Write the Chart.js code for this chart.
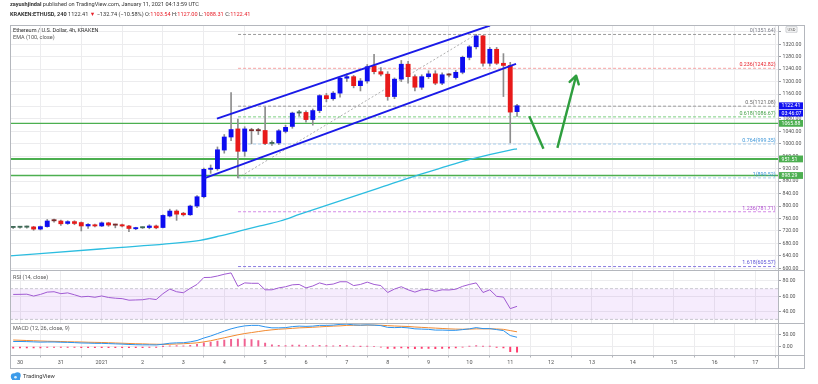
<!DOCTYPE html>
<html><head><meta charset="utf-8">
<script src="https://cdn.jsdelivr.net/npm/chart.js@4/dist/chart.umd.min.js"></script>
<style>
html,body{margin:0;padding:0;background:#fff;}
#wrap{position:relative;width:818px;height:384px;overflow:hidden;background:#fff;font-family:Roboto,'Liberation Sans',Arial,sans-serif;}
canvas{position:absolute;left:0;}
.t{position:absolute;white-space:nowrap;line-height:1;color:#333;}
.ln{position:absolute;background:#b4b7bd;}
</style></head><body>
<div id="wrap">
<canvas id="cPrice" width="818" height="270" style="top:0;width:818px;height:270px"></canvas>
<canvas id="cRsi" width="818" height="53" style="top:270px;width:818px;height:53px"></canvas>
<canvas id="cMacd" width="818" height="45" style="top:323px;width:818px;height:45px"></canvas>

<div class="ln" style="left:10px;top:25px;width:794px;height:1px"></div>
<div class="ln" style="left:10px;top:270px;width:794px;height:1px"></div>
<div class="ln" style="left:10px;top:323px;width:794px;height:1px"></div>
<div class="ln" style="left:10px;top:355px;width:794px;height:1px"></div>
<div class="ln" style="left:10px;top:368px;width:794px;height:1px"></div>
<div class="ln" style="left:10px;top:25px;width:1px;height:344px"></div>
<div class="ln" style="left:778px;top:25px;width:1px;height:344px"></div>
<div class="ln" style="left:804px;top:25px;width:1px;height:344px"></div>

<div class="t" style="left:10px;top:2px;font-size:5.6px;"><b>zayushjindal</b> published on TradingView.com, January 11, 2021 04:13:59 UTC</div>
<div class="t" style="left:10px;top:12px;font-size:5.6px;"><b>KRAKEN:ETHUSD, 240</b> 1122.41 <span style="color:#e8202a">▼</span> −132.74 (−10.58%) O:<span style="color:#e8202a">1103.54</span> H:<span style="color:#e8202a">1127.00</span> L:<span style="color:#e8202a">1088.31</span> C:<span style="color:#e8202a">1122.41</span></div>
<div class="t" style="left:13px;top:28px;font-size:5.5px;">Ethereum / U.S. Dollar, 4h, KRAKEN</div>
<div class="t" style="left:13px;top:35px;font-size:5.5px;color:#555">EMA (100, close)</div>
<div class="t" style="left:13px;top:274.5px;font-size:5.5px;color:#555">RSI (14, close)</div>
<div class="t" style="left:13px;top:326px;font-size:5.5px;color:#555">MACD (12, 26, close, 9)</div>
<svg style="position:absolute;left:10px;top:372px" width="12" height="8" viewBox="0 0 12 8"><circle cx="4" cy="4.5" r="3.2" fill="#3d9be9"/><circle cx="7.5" cy="3.4" r="3.2" fill="#3d9be9"/><rect x="2" y="5" width="8" height="3" fill="#3d9be9"/><circle cx="5.5" cy="5.2" r="1.3" fill="#dff0fc"/></svg>
<div class="t" style="left:23px;top:373.5px;font-size:5.8px;color:#333">TradingView</div>
</div>
<script>
const FONT = "Roboto, 'Liberation Sans', Arial, sans-serif";

// ---- DATA ----
const candleHours = [-4,0,4,8,12,16,20,24,28,32,36,40,44,48,52,56,60,64,68,72,76,80,84,88,92,96,100,104,108,112,116,120,124,128,132,136,140,144,148,152,156,160,164,168,172,176,180,184,188,192,196,200,204,208,212,216,220,224,228,232,236,240,244,248,252,256,260,264,268,272,276,280,284,288,292];
const opens  = [731,731.5,732,733,726,734,754,752,744,750,747,736,739,736,746,740,740,736,727,730,731,736,731,768,784,777,772,800,830,918,920,980,1022,1048,976,1043,1043,1043,1001,1003,1040,1056,1099,1101,1078,1107,1155,1145,1163,1211,1216,1187,1202,1251,1232,1224,1152,1208,1256,1216,1182,1216,1225,1195,1222,1213,1230,1278,1312,1347,1259,1304,1259,1252,1103.54];
const highs  = [734,735,736,735,736,757,758,755,753,753,749,744,742,749,748,742,742,738,732,733,740,739,772,790,788,780,803,834,922,932,990,1030,1165,1080,1055,1050,1050,1118,1010,1046,1060,1102,1108,1106,1112,1158,1162,1168,1215,1225,1220,1210,1255,1288,1245,1232,1212,1268,1265,1222,1222,1235,1235,1228,1226,1236,1282,1316,1351.64,1349,1310,1310,1290,1262,1127];
const lows   = [728,729,729,722,723,732,748,738,741,740,720,728,733,734,735,730,733,718,724,728,727,727,730,765,754,768,770,795,826,905,915,970,1010,890.52,960,1000,1030,997,995,998,1035,1050,1090,1070,1060,1100,1135,1140,1150,1200,1180,1170,1195,1225,1218,1140,1145,1200,1195,1170,1175,1210,1190,1190,1215,1208,1225,1270,1305,1250,1250,1255,1152,1003,1088.31];
const closes = [731.5,732,732.5,726,734,752,752.5,743,750,744,736,741,736,746,739,738.5,736,728,729,730.5,736,730,770,784,774,772,800,830,918,920,981,1022,1046,976,1048,1042,1042,1001,1002,1042,1053,1099,1100.5,1078,1107,1155,1145,1163,1211,1216,1187,1202,1248,1232,1224,1152,1208,1256,1216,1182,1216,1225,1195,1222,1221,1230,1278,1312,1347,1259,1304,1259,1252,1102,1122.41];

const emaHours  = [-5.9,47,95.8,105.8,117.5,129.3,141,152.8,164.5,209.8,235,250.9,264.4,287.9,292];
const emaValues = [640,662,683,690,704,720,736,752,774,856,902,928,950,980,984];

const rsiValues = [62.5,62.6,62.8,60.4,62.5,65.5,66,63.5,64.5,62,59.3,60,58.8,60.5,58.5,57.6,57,55,55.3,55.6,57,55.8,63.5,69.5,66,64.7,70.5,75.5,84.5,84.7,86.5,88.8,90.5,73,77.5,77,77,68.5,68.5,71,72.5,75,75.5,71,73.5,77.5,75,76,79,79,74,75.5,78.5,75.5,74,65,69.5,72.5,68.5,65.5,68.5,69,66.5,68.5,68.3,69.3,73,75.5,77.5,65,68.5,60,59,44,47];

const macdValues   = [21,21,20.5,19.5,18.5,19,19,18,17.5,16.5,15,14.5,13.5,13.5,12.5,11.5,10.5,9,8,7.5,7.5,7,10,14,15.5,16,19.5,25,35,43,53,63,72,79,84,86,86,80,76,76,77,81,83,82,83,86,86,87,90,91,88,87,88,87,85,78,77,78,76,72,71,70,67,67,66,66,69,72,77,73,73,69,65,45,38];
const signalValues = [27,26,25,24,23,22,21.5,21,20,19.5,19,18,17.5,17,16,15,14,13,12,11.5,10.5,10,9.5,10,11,12,13.5,15.5,19.5,24,30,36,42,48,53,57,61,65,68,70.5,72,74,76,77,78.5,80,81.5,83,84,86,86.5,86.5,87,87,86.5,85,83.5,82.5,81.5,79.5,78,76.5,75,73.5,72,71,70.5,71,72,72,72,71.5,70,65,60];
const histValues   = [-6,-5,-4.5,-4.5,-4.5,-3,-2.5,-3,-2.5,-3,-4,-3.5,-4,-3.5,-3.5,-3.5,-3.5,-4,-4,-4,-3,-3,0.5,4,4.5,4,6,9.5,15.5,19,23,27,30,31,31,29,25,15,8,5.5,5,7,7,5,4.5,6,4.5,4,6,5,1.5,0.5,1,0,-1.5,-7,-6.5,-4.5,-5.5,-7.5,-7,-6.5,-8,-6.5,-6,-5,-1.5,1,5,1,1,-2.5,-5,-20,-22];

const dayTickHours  = [0,24,48,72,96,120,144,168,192,216,240,264,288,312,336,360,384,408,432];
const dayTickLabels = ['30','31','2021','2','3','4','5','6','7','8','9','10','11','12','13','14','15','16','17'];
const priceTicks = [600,640,680,720,760,800,840,880,920,960,1000,1040,1080,1120,1160,1200,1240,1280,1320,1360];
const rsiTicks = [40,60,80];
const macdTicks = [0,50];

const fibRatios = ['0','0.236','0.5','0.618','0.764','1','1.236','1.618'];
const fibPrices = [1351.64,1242.82,1121.08,1086.67,999.35,890.52,781.71,605.57];
const fibStartHour = 128.1, fibEndHour = 443.6;
const fibTrendHours = [128.1,267.9];
const fibTrendPrices = [890.52,1351.64];

const upperChannelHours = [115.7,276.1], upperChannelPrices = [1081,1380];
const lowerChannelHours = [108.1,291.4], lowerChannelPrices = [889,1257];
const greenLevels = [1065.88,951.51,898.29];
const arrowDownHours = [299.2,307.5], arrowDownPrices = [1088.5,984];
const arrowUpHours = [315.7,326.7], arrowUpPrices = [987,1219];
const lastPrice = 1122.41, countdownText = '03:46:07';

// ---- STYLE ----
const X_MIN = -5.875, X_MAX = 445.3;
const UP = '#0d0df0', DOWN = '#e81a1a', GREEN = '#4caf50', ARROW = '#2e9e3e';
const fibLineColors  = ['#9a9a9a','#f5a3a3','#9a9a9a','#7ccf80','#a8cdea','#a8cdea','#d38ae6','#8a7be0'];
const fibTextColors  = ['#787b86','#e8202a','#666','#43a047','#3d96d8','#3d96d8','#b04bd0','#5b52d6'];
const gridColor = '#ececee';

function xScale(show){
  return {type:'linear',min:X_MIN,max:X_MAX,offset:false,
    afterBuildTicks:s=>{s.ticks=dayTickHours.map(v=>({value:v}));},
    grid:{color:gridColor,drawTicks:show,tickLength:2,tickColor:'#b4b7bd'},
    border:{display:false},
    ticks:{display:show,autoSkip:false,maxRotation:0,padding:1.5,color:'#555',font:{size:5.5,family:FONT},
      callback:(v,i)=>dayTickLabels[i]},
    afterFit:s=>{s.height=show?12.5:0;s.paddingLeft=0;s.paddingRight=0;}
  };
}
function yScale(min,max,ticks,fmt){
  return {position:'right',min,max,
    afterBuildTicks:s=>{s.ticks=ticks.map(v=>({value:v}));},
    grid:{color:gridColor,drawTicks:true,tickLength:3,tickColor:'#9a9da3'},
    border:{display:false},
    ticks:{color:'#555',padding:1.5,font:{size:5.2,family:FONT},callback:fmt},
    afterFit:s=>{s.width=26;s.paddingTop=0;s.paddingBottom=0;}
  };
}
const baseOpts = {responsive:false,animation:false,devicePixelRatio:1,
  plugins:{legend:{display:false},tooltip:{enabled:false}},events:[]};

function lineDs(xs,ys,color,width,dash,order){
  return {type:'line',data:xs.map((h,i)=>({x:h,y:ys[i]})),borderColor:color,borderWidth:width,
    borderDash:dash||[],pointRadius:0,tension:0,order:order||1,fill:false};
}

// ---- PRICE CHART ----
const bodyColors = opens.map((o,i)=>{
  const c=closes[i];
  if (Math.abs(c-o)<=1.5) return c>=o ? '#3f6a57' : '#7a2b2b';
  return c>=o?UP:DOWN;
});
const priceDatasets = [
  {type:'bar',data:candleHours.map((h,i)=>({x:h,y:[lows[i],highs[i]]})),backgroundColor:'#8d8d8d',barThickness:1,grouped:false,order:4},
  {type:'bar',data:candleHours.map((h,i)=>({x:h,y:[opens[i],closes[i]]})),backgroundColor:bodyColors,barThickness:4.2,minBarLength:1.2,grouped:false,order:3},
];
fibPrices.forEach((p,i)=>{
  priceDatasets.push(lineDs([fibStartHour,fibEndHour],[p,p],fibLineColors[i],1,[3,2],6));
});
priceDatasets.push(lineDs(fibTrendHours,fibTrendPrices,'#9a9a9a',0.8,[2,2],6));
greenLevels.forEach(p=>{
  priceDatasets.push(lineDs([X_MIN,X_MAX],[p,p],GREEN,p===951.51?2:1.3,[],5));
});
const emaDs = lineDs(emaHours,emaValues,'#2cbde0',1.3,[],2);
emaDs.cubicInterpolationMode='monotone';
priceDatasets.push(emaDs);
priceDatasets.push(lineDs(upperChannelHours,upperChannelPrices,'#1a1ae8',2,[],1));
priceDatasets.push(lineDs(lowerChannelHours,lowerChannelPrices,'#1a1ae8',2,[],1));
priceDatasets.push(lineDs(arrowDownHours,arrowDownPrices,ARROW,2.4,[],1));
priceDatasets.push(lineDs(arrowUpHours,arrowUpPrices,ARROW,2.4,[],1));

const priceOverlay = {
  id:'priceOverlay',
  afterDatasetsDraw(chart){
    const {ctx,scales:{x,y}}=chart;
    ctx.save();
    ctx.font=`5.3px ${FONT}`;ctx.textAlign='right';ctx.textBaseline='bottom';
    fibPrices.forEach((p,i)=>{
      ctx.fillStyle=fibTextColors[i];
      ctx.fillText(`${fibRatios[i]}(${p.toFixed(2)})`, x.getPixelForValue(fibEndHour)+0.5, y.getPixelForValue(p)-0.8);
    });
    const x0=x.getPixelForValue(arrowUpHours[0]),y0=y.getPixelForValue(arrowUpPrices[0]);
    const x1=x.getPixelForValue(arrowUpHours[1]),y1=y.getPixelForValue(arrowUpPrices[1]);
    const ang=Math.atan2(y1-y0,x1-x0);
    ctx.strokeStyle=ARROW;ctx.lineWidth=2.4;ctx.lineCap='round';
    ctx.beginPath();
    [-0.55,0.55].forEach(da=>{ctx.moveTo(x1,y1);ctx.lineTo(x1-9*Math.cos(ang+da),y1-9*Math.sin(ang+da));});
    ctx.stroke();
    ctx.restore();
  },
  afterDraw(chart){
    const {ctx,scales:{y}}=chart;
    const L=y.left;
    ctx.save();
    function box(py,text,bg){
      ctx.fillStyle=bg;ctx.fillRect(L,py-3.4,25,6.8);
      ctx.fillStyle='#fff';ctx.font=`5.2px ${FONT}`;ctx.textAlign='left';ctx.textBaseline='middle';
      ctx.fillText(text,L+3.5,py+0.3);
    }
    const lp=y.getPixelForValue(lastPrice);
    box(lp,lastPrice.toFixed(2),'#1010f0');
    box(lp+7.4,countdownText,'#1010f0');
    greenLevels.forEach(p=>box(y.getPixelForValue(p),p.toFixed(2),GREEN));
    ctx.fillStyle='#fff';ctx.strokeStyle='#b4b7bd';ctx.lineWidth=0.7;
    ctx.beginPath();ctx.rect(L+8,26.8,11,5.4);ctx.fill();ctx.stroke();
    ctx.fillStyle='#444';ctx.font=`4.2px ${FONT}`;ctx.textAlign='center';ctx.textBaseline='middle';
    ctx.fillText('USD',L+13.5,29.6);
    ctx.restore();
  }
};

new Chart(document.getElementById('cPrice'),{
  type:'bar',
  data:{datasets:priceDatasets},
  options:{...baseOpts,
    layout:{padding:{left:10,right:14,top:25,bottom:0}},
    scales:{x:xScale(false),y:yScale(594.5,1382,priceTicks,v=>v===1360?'':v.toFixed(2))}},
  plugins:[priceOverlay]
});

// ---- RSI CHART ----
const rsiBand = {
  id:'rsiBand',
  beforeDatasetsDraw(chart){
    const {ctx,chartArea:a,scales:{y}}=chart;
    const t=y.getPixelForValue(70),b=y.getPixelForValue(30);
    ctx.save();
    ctx.fillStyle='rgba(171,71,232,0.10)';
    ctx.fillRect(a.left,t,a.right-a.left,b-t);
    ctx.strokeStyle='#bdbdc4';ctx.lineWidth=0.8;ctx.setLineDash([3,2]);
    ctx.beginPath();ctx.moveTo(a.left,t);ctx.lineTo(a.right,t);ctx.moveTo(a.left,b);ctx.lineTo(a.right,b);ctx.stroke();
    ctx.restore();
  }
};
new Chart(document.getElementById('cRsi'),{
  type:'line',
  data:{datasets:[lineDs(candleHours,rsiValues,'#a05ad2',1,[],1)]},
  options:{...baseOpts,
    layout:{padding:{left:10,right:14,top:0,bottom:0}},
    scales:{x:xScale(false),y:yScale(25.3,94.3,rsiTicks,v=>v.toFixed(2))}},
  plugins:[rsiBand]
});

// ---- MACD CHART ----
new Chart(document.getElementById('cMacd'),{
  type:'bar',
  data:{datasets:[
    {type:'bar',data:candleHours.map((h,i)=>({x:h,y:histValues[i]})),
      backgroundColor:histValues.map(v=>v>=0?'#f06292':'#ff3d6e'),barThickness:1.3,grouped:false,order:3},
    lineDs(candleHours,signalValues,'#f28a30',1,[],2),
    lineDs(candleHours,macdValues,'#2a93ee',1,[],1)
  ]},
  options:{...baseOpts,
    layout:{padding:{left:10,right:14,top:0,bottom:0}},
    scales:{x:xScale(true),y:yScale(-35.5,95.6,macdTicks,v=>v.toFixed(2))}}
});
</script>
</body></html>
